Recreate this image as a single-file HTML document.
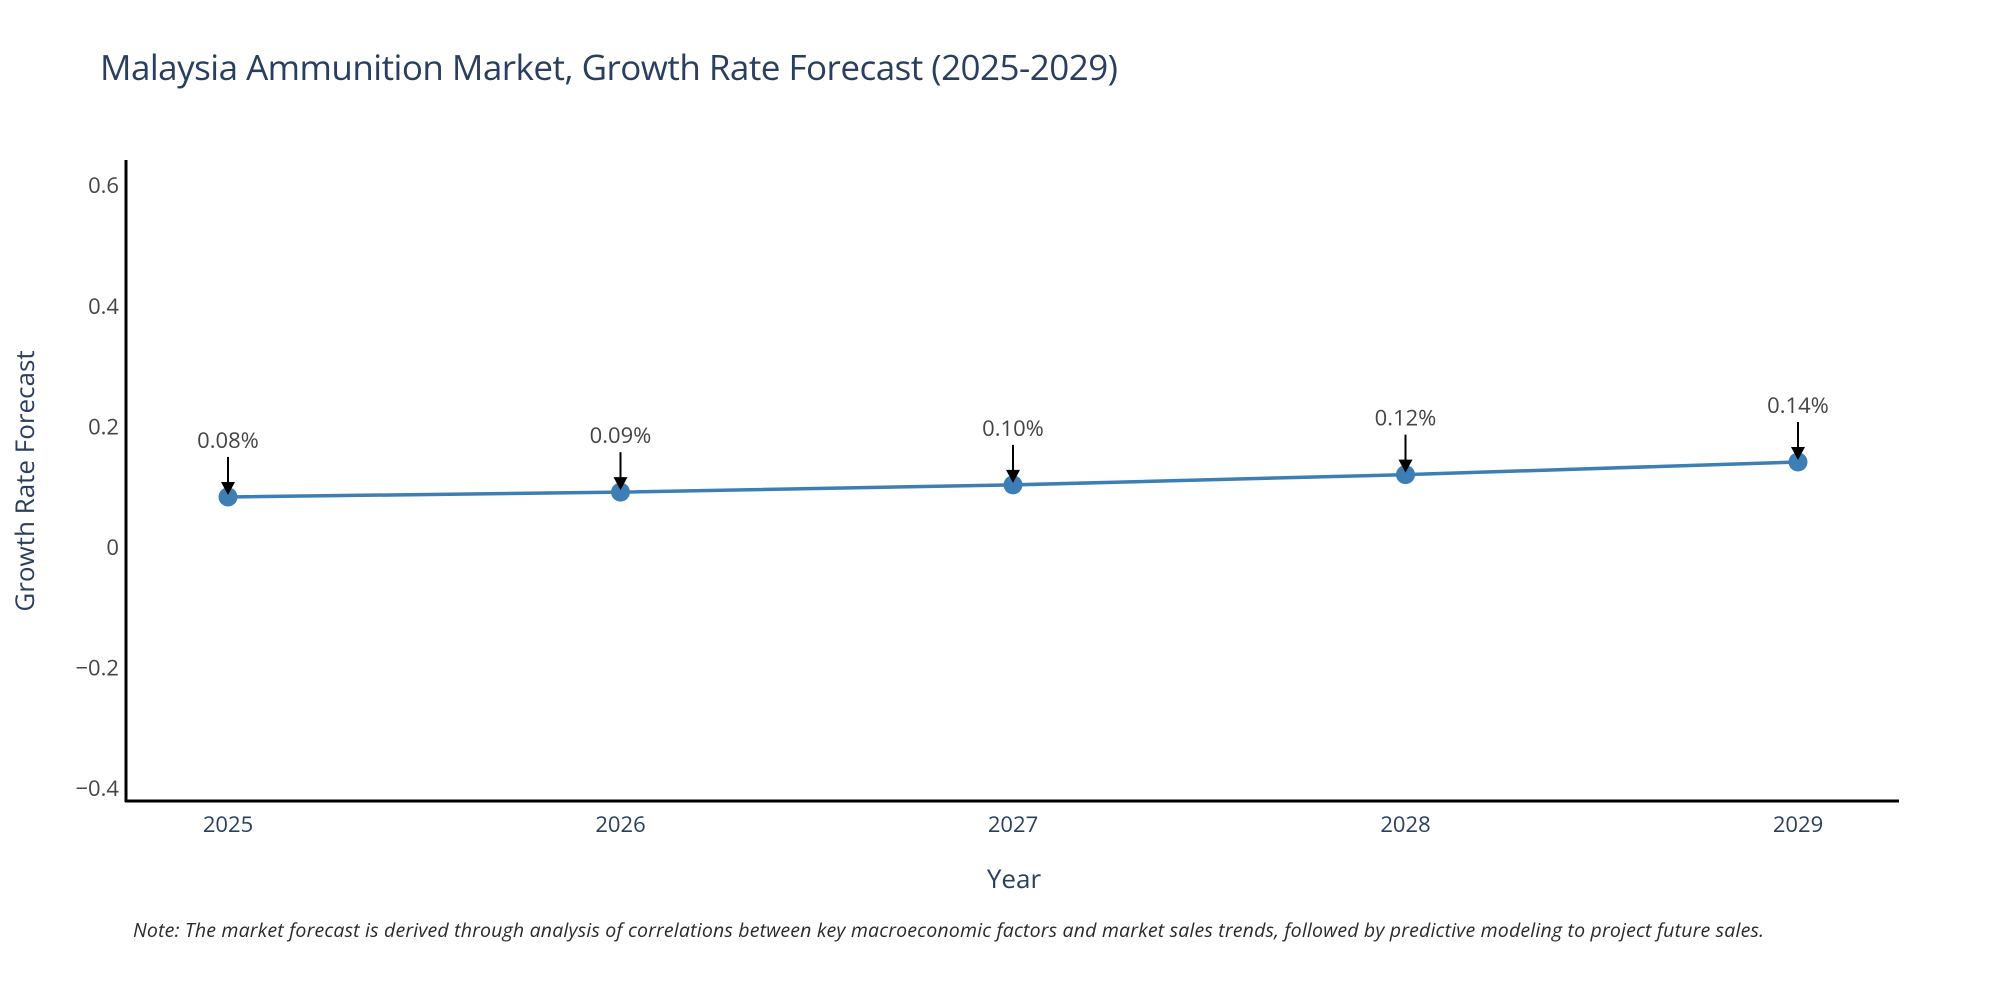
<!DOCTYPE html>
<html><head><meta charset="utf-8"><style>
body{margin:0;background:#fff;}
svg{display:block;font-family:"Open Sans","Liberation Sans",sans-serif;}
</style></head><body>
<svg id="chart" width="2000" height="1000" viewBox="0 0 2000 1000">
<text x="100" y="80" font-size="35" fill="#2a3f5f" textLength="1018">Malaysia Ammunition Market, Growth Rate Forecast (2025-2029)</text>
<g id="yticks"></g>
<g id="xticks"></g>
<line x1="126" y1="160" x2="126" y2="802" stroke="#000" stroke-width="3"/>
<line x1="125" y1="801" x2="1899" y2="801" stroke="#000" stroke-width="3"/>
<g id="series"></g>
<g id="annots"></g>
<text x="1014" y="888" font-size="26" fill="#2a3f5f" text-anchor="middle">Year</text>
<text transform="translate(34,481) rotate(-90)" font-size="26" fill="#2a3f5f" text-anchor="middle">Growth Rate Forecast</text>
<text x="133" y="937" font-size="19.5" font-style="italic" fill="#2a2a2a" textLength="1631">Note: The market forecast is derived through analysis of correlations between key macroeconomic factors and market sales trends, followed by predictive modeling to project future sales.</text>
</svg>
<script>
const years = ["2025","2026","2027","2028","2029"];
const values = [0.083, 0.091, 0.103, 0.120, 0.141];
const valueLabels = ["0.08%","0.09%","0.10%","0.12%","0.14%"];
const yTickValues = [0.6, 0.4, 0.2, 0, -0.2, -0.4];
const yTickLabels = ["0.6","0.4","0.2","0","\u22120.2","\u22120.4"];

const NS = "http://www.w3.org/2000/svg";
function yScale(v){ return 547 - v * 603; }
function xScale(i){ return 228 + i * (1798 - 228) / (years.length - 1); }
function mk(tag, attrs, parent){ const e=document.createElementNS(NS,tag); for(const k in attrs) e.setAttribute(k, attrs[k]); parent.appendChild(e); return e; }

const yt = document.getElementById('yticks');
yTickValues.forEach((v,i)=>{
  const t = mk('text',{x:119,y:yScale(v)+8,'font-size':22,fill:'#444','text-anchor':'end'},yt);
  t.textContent = yTickLabels[i];
  
  
});
const xt = document.getElementById('xticks');
years.forEach((y,i)=>{
  const t = mk('text',{x:xScale(i),y:832,'font-size':22,fill:'#2a3f5f','text-anchor':'middle'},xt);
  t.textContent = y;
  
  
});
const s = document.getElementById('series');
const pts = values.map((v,i)=>xScale(i)+','+yScale(v)).join(' ');
const pl = mk('polyline',{points:pts,fill:'none',stroke:'#3d7eb5','stroke-width':3.5},s);


values.forEach((v,i)=>{
  const c = mk('circle',{cx:xScale(i),cy:yScale(v),r:9.5,fill:'#3d7eb5'},s);
  
  
});
const a = document.getElementById('annots');
values.forEach((v,i)=>{
  const x = xScale(i), y = yScale(v);
  const ln = mk('line',{x1:x,y1:y-40,x2:x,y2:y-12,stroke:'#000','stroke-width':2},a);
  
  
  const hd = mk('polygon',{points:`${x-7},${y-15} ${x+7},${y-15} ${x},${y-2}`,fill:'#000'},a);
  
  
  const t = mk('text',{x:x,y:y-49,'font-size':22,fill:'#444','text-anchor':'middle'},a);
  t.textContent = valueLabels[i];
  
  
});
</script>
</body></html>
